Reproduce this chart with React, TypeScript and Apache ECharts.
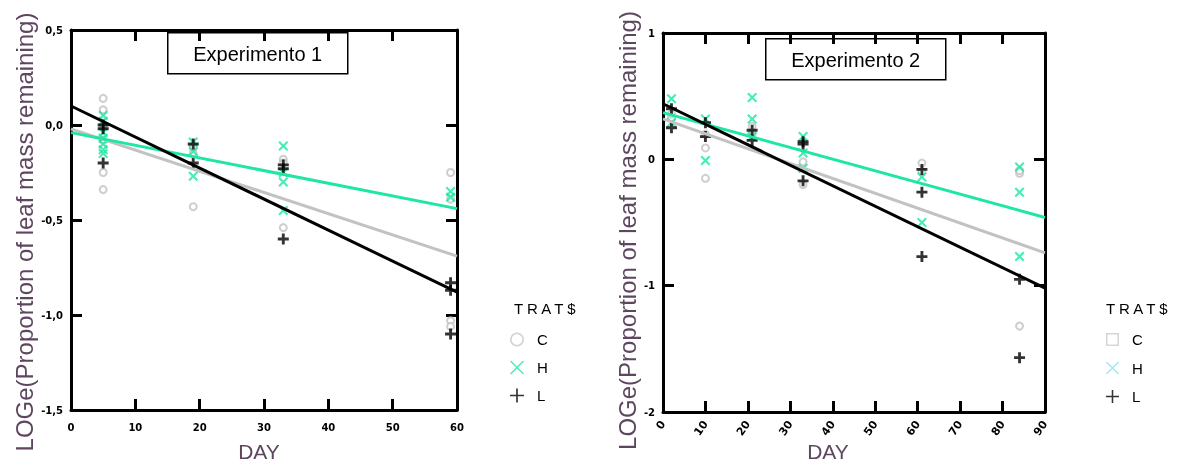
import React, { useEffect, useRef } from "react";
import * as echarts from "echarts";

// ---------- data ----------
const exp1C: number[][] = [[5, 0.14], [5, 0.08], [5, 0.0], [5, -0.08], [5, -0.25], [5, -0.34], [19, -0.12], [19, -0.15], [19, -0.43], [33, -0.18], [33, -0.2], [33, -0.54], [59, -0.25], [59, -0.39], [59, -1.03], [59, -1.06]];
const exp1H: number[][] = [[5, 0.05], [5, 0.02], [5, -0.04], [5, -0.07], [5, -0.1], [5, -0.13], [5, -0.15], [19, -0.09], [19, -0.14], [19, -0.27], [33, -0.11], [33, -0.25], [33, -0.3], [33, -0.45], [59, -0.35], [59, -0.38]];
const exp1L: number[][] = [[5, 0.0], [5, -0.02], [5, -0.2], [19, -0.1], [19, -0.2], [33, -0.21], [33, -0.23], [33, -0.6], [59, -0.83], [59, -0.87], [59, -1.1]];
const exp1FitC: number[][] = [[0, -0.02], [60, -0.69]];
const exp1FitH: number[][] = [[0, -0.04], [60, -0.44]];
const exp1FitL: number[][] = [[0, 0.1], [60, -0.88]];

const exp2C: number[][] = [[2, 0.33], [2, 0.36], [10, 0.2], [10, 0.09], [10, -0.15], [21, 0.26], [21, 0.2], [33, -0.02], [33, -0.2], [61, -0.03], [61, -0.1], [84, -0.11], [84, -0.09], [84, -1.32]];
const exp2H: number[][] = [[2, 0.48], [2, 0.29], [10, 0.32], [10, -0.01], [21, 0.49], [21, 0.32], [21, 0.18], [33, 0.18], [33, 0.05], [33, -0.07], [61, -0.14], [61, -0.5], [84, -0.06], [84, -0.26], [84, -0.77]];
const exp2L: number[][] = [[2, 0.4], [2, 0.25], [10, 0.29], [10, 0.18], [21, 0.23], [21, 0.15], [33, 0.14], [33, 0.12], [33, -0.17], [61, -0.08], [61, -0.26], [61, -0.77], [84, -0.95], [84, -1.57]];
const exp2FitC: number[][] = [[0, 0.32], [90, -0.74]];
const exp2FitH: number[][] = [[0, 0.37], [90, -0.46]];
const exp2FitL: number[][] = [[0, 0.44], [90, -1.02]];

const treatments = ["C", "H", "L"];
const panelTitles = ["Experimento 1", "Experimento 2"];
const legendTitle = "T R A T $";
const yTitle = "LOGe(Proportion of leaf mass remaining)";
const xTitle = "DAY";

// ---------- styles ----------
const GREEN = "#1ee6a4";
const GRAY = "#c2c2c2";
const BLACK = "#000000";
const TITLE_COLOR = "#5e4660";

const X_PATH = "path://M1.5,0 L5,3.5 L8.5,0 L10,1.5 L6.5,5 L10,8.5 L8.5,10 L5,6.5 L1.5,10 L0,8.5 L3.5,5 L0,1.5 Z";
const PLUS_PATH = "path://M3.7,0 H6.3 V3.7 H10 V6.3 H6.3 V10 H3.7 V6.3 H0 V3.7 H3.7 Z";
const X_THIN = "path://M0.7,0 L5,4.3 L9.3,0 L10,0.7 L5.7,5 L10,9.3 L9.3,10 L5,5.7 L0.7,10 L0,9.3 L4.3,5 L0,0.7 Z";
const PLUS_THIN = "path://M4.4,0 H5.6 V4.4 H10 V5.6 H5.6 V10 H4.4 V5.6 H0 V4.4 H4.4 Z";
const SQUARE_RING = "path://M0,0 H10 V10 H0 Z M1.2,1.2 V8.8 H8.8 V1.2 Z";

function ringPath(n: number, ro: number, ri: number): string {
  const pts = (r: number, rev: boolean) => {
    const out: string[] = [];
    for (let i = 0; i < n; i++) {
      const k = rev ? n - i : i;
      const a = (k / n) * Math.PI * 2;
      out.push((5 + r * Math.cos(a)).toFixed(3) + "," + (5 + r * Math.sin(a)).toFixed(3));
    }
    return "M" + out.join(" L") + " Z";
  };
  return "path://" + pts(ro, false) + " " + pts(ri, true);
}
const RING = ringPath(24, 5, 3.8);

const tickFont = { fontFamily: "DejaVu Sans", fontSize: 10, fontWeight: "bold", color: "#000" };

function axisBase(gridIndex: number, position: string, min: number, max: number, interval: number) {
  return {
    type: "value",
    gridIndex,
    position,
    min,
    max,
    interval,
    axisLine: { show: true, onZero: false, lineStyle: { color: "#000", width: 3 } },
    axisTick: { show: true, inside: true, length: 11, lineStyle: { color: "#000", width: 3 } },
    splitLine: { show: false },
  };
}

function scatter(name: string, data: number[][], axisIdx: number, symbol: string, size: number, color: string, empty: boolean) {
  return {
    type: "scatter",
    name,
    data,
    xAxisIndex: axisIdx,
    yAxisIndex: axisIdx,
    symbol,
    symbolSize: size,
    itemStyle: empty ? { color: "#fff", borderColor: color, borderWidth: 2 } : { color },
    z: 3,
  };
}

function fit(name: string, data: number[][], axisIdx: number, color: string) {
  return {
    type: "line",
    name,
    data,
    xAxisIndex: axisIdx,
    yAxisIndex: axisIdx,
    symbol: "none",
    lineStyle: { color, width: 3 },
    z: 4,
    silent: true,
  };
}

export default function App() {
  const ref = useRef<HTMLDivElement>(null);
  useEffect(() => {
    if (!ref.current) return;
    const chart = echarts.init(ref.current, null, { renderer: "svg" });

    const xName = (pad: number) => ({ fontFamily: "Liberation Sans", fontSize: 21, color: TITLE_COLOR, padding: [0, pad, 0, 0] });
    const yName = (pad: number) => ({ fontFamily: "Liberation Sans", fontSize: 24, color: TITLE_COLOR, padding: [0, pad, 0, 0] });

    const option: any = {
      animation: false,
      grid: [
        { left: 71, top: 30, width: 386, height: 380, outerBoundsMode: "none", containLabel: false },
        { left: 663, top: 33, width: 382, height: 379, outerBoundsMode: "none", containLabel: false },
      ],
      xAxis: [
        Object.assign(axisBase(0, "bottom", 0, 60, 10), {
          axisLabel: Object.assign({ margin: 12 }, tickFont),
          name: xTitle,
          nameLocation: "middle",
          nameGap: 31,
          nameTextStyle: xName(10),
        }),
        Object.assign(axisBase(0, "top", 0, 60, 10), { axisLabel: { show: false } }),
        Object.assign(axisBase(1, "bottom", 0, 90, 10), {
          axisLabel: Object.assign({}, tickFont, { margin: 10, rotate: 55, fontSize: 11 }),
          name: xTitle,
          nameLocation: "middle",
          nameGap: 29,
          nameMoveOverlap: false,
          nameTextStyle: xName(52),
        }),
        Object.assign(axisBase(1, "top", 0, 90, 10), { axisLabel: { show: false } }),
      ],
      yAxis: [
        Object.assign(axisBase(0, "left", -1.5, 0.5, 0.5), {
          axisLabel: Object.assign({ margin: 8, formatter: (v: number) => v.toFixed(1).replace(".", ",") }, tickFont),
          name: yTitle,
          nameLocation: "middle",
          nameRotate: 90,
          nameGap: 35,
          nameTextStyle: yName(24),
        }),
        Object.assign(axisBase(0, "right", -1.5, 0.5, 0.5), { axisLabel: { show: false } }),
        Object.assign(axisBase(1, "left", -2, 1, 1), {
          axisLabel: Object.assign({ margin: 8 }, tickFont),
          name: yTitle,
          nameLocation: "middle",
          nameRotate: 90,
          nameGap: 23,
          nameTextStyle: yName(16),
        }),
        Object.assign(axisBase(1, "right", -2, 1, 1), { axisLabel: { show: false } }),
      ],
      legend: [
        {
          orient: "vertical",
          left: 505,
          top: 327,
          itemWidth: 14,
          itemHeight: 14,
          itemGap: 13,
          selectedMode: false,
          textStyle: { fontFamily: "Liberation Sans", fontSize: 15, color: "#000", padding: [0, 0, 0, 8] },
          data: [
            { name: treatments[0], icon: RING, itemStyle: { color: "#c8c8c8", borderWidth: 0 } },
            { name: treatments[1], icon: X_THIN, itemStyle: { color: GREEN, borderWidth: 0 } },
            { name: treatments[2], icon: PLUS_THIN, itemStyle: { color: BLACK, borderWidth: 0 } },
          ],
        },
        {
          orient: "vertical",
          left: 1101,
          top: 327,
          itemWidth: 13,
          itemHeight: 13,
          itemGap: 13.5,
          selectedMode: false,
          textStyle: { fontFamily: "Liberation Sans", fontSize: 15, color: "#000", padding: [0, 0, 0, 8] },
          data: [
            { name: treatments[0], icon: SQUARE_RING, itemStyle: { color: "#cccccc", borderWidth: 0 } },
            { name: treatments[1], icon: X_THIN, itemStyle: { color: "#8adcf0", borderWidth: 0 } },
            { name: treatments[2], icon: PLUS_THIN, itemStyle: { color: BLACK, borderWidth: 0 } },
          ],
        },
      ],
      graphic: [
        {
          type: "group",
          left: 167,
          top: 32,
          z: 100,
          children: [
            { type: "rect", shape: { x: 0, y: 0, width: 180, height: 41 }, style: { fill: "#fff", stroke: "#000", lineWidth: 1.5 } },
            { type: "text", x: 90, y: 21, style: { text: panelTitles[0], fontFamily: "Liberation Sans", fontSize: 20, fill: "#000", align: "center", verticalAlign: "middle" } },
          ],
        },
        {
          type: "group",
          left: 765,
          top: 38,
          z: 100,
          children: [
            { type: "rect", shape: { x: 0, y: 0, width: 180, height: 41 }, style: { fill: "#fff", stroke: "#000", lineWidth: 1.5 } },
            { type: "text", x: 90, y: 21, style: { text: panelTitles[1], fontFamily: "Liberation Sans", fontSize: 20, fill: "#000", align: "center", verticalAlign: "middle" } },
          ],
        },
        { type: "text", left: 514, top: 301, style: { text: legendTitle, fontFamily: "Liberation Sans", fontSize: 15, fill: "#000" } },
        { type: "text", left: 1106, top: 301, style: { text: legendTitle, fontFamily: "Liberation Sans", fontSize: 15, fill: "#000" } },
      ],
      series: [
        scatter(treatments[0], exp1C, 0, "circle", 7, GRAY, true),
        scatter(treatments[1], exp1H, 0, X_PATH, 10, GREEN, false),
        scatter(treatments[2], exp1L, 0, PLUS_PATH, 11, BLACK, false),
        fit("C fit 1", exp1FitC, 0, GRAY),
        fit("H fit 1", exp1FitH, 0, GREEN),
        fit("L fit 1", exp1FitL, 0, BLACK),
        scatter(treatments[0], exp2C, 2, "circle", 7, GRAY, true),
        scatter(treatments[1], exp2H, 2, X_PATH, 10, GREEN, false),
        scatter(treatments[2], exp2L, 2, PLUS_PATH, 11, BLACK, false),
        fit("C fit 2", exp2FitC, 2, GRAY),
        fit("H fit 2", exp2FitH, 2, GREEN),
        fit("L fit 2", exp2FitL, 2, BLACK),
      ],
    };
    chart.setOption(option);
    return () => chart.dispose();
  }, []);
  return <div ref={ref} style={{ position: "fixed", left: 0, top: 0, width: 1184, height: 466 }} />;
}
